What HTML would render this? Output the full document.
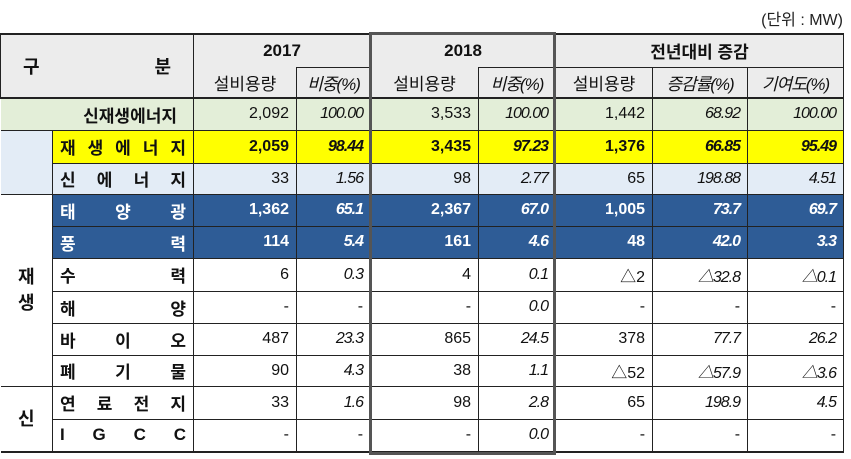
<!DOCTYPE html>
<html><head><meta charset="utf-8"><style>
body{margin:0;width:851px;height:459px;background:#fff;overflow:hidden;font-family:"Liberation Sans","Noto Sans CJK KR",sans-serif;position:relative}
#unit{position:absolute;right:8px;top:6px;font-size:16px;color:#222}
table{position:absolute;left:0;top:33px;border-collapse:collapse;table-layout:fixed;width:843px}
td{border:1px solid #222;padding:0 7px;font-size:16px;color:#111;text-align:right;white-space:nowrap;overflow:hidden}
tr.h td{background:#ececec;text-align:center;font-size:17px}
td.l{font-weight:bold;font-size:17px;text-align:left}
.sp{display:flex;justify-content:space-between}
i{font-style:italic;letter-spacing:-1px}
.g td{background:#e3eed8}
.y td{background:#ffff00;font-weight:bold}
.lb td{background:#e3ecf6}
.b td{background:#2e5c96;color:#fff;font-weight:bold}
td.w{background:#fff!important;color:#111!important;font-weight:bold;font-size:18px;text-align:center;line-height:26px;border-left:none}
#box{position:absolute;left:369px;top:32px;width:181px;height:417px;border:3px solid #555}
</style></head><body>
<div id="unit">(단위 : MW)</div>
<table>
<colgroup><col style="width:52px"><col style="width:141px"><col style="width:103px"><col style="width:74px"><col style="width:108px"><col style="width:77px"><col style="width:97px"><col style="width:95px"><col style="width:96px"></colgroup>
<tr class="h" style="height:33px;border-top:2px solid #222"><td colspan="2" rowspan="2" style="padding:0 22px"><div class="sp" style="font-weight:bold;font-size:18px"><span>구</span><span>분</span></div></td><td colspan="2" style="font-weight:bold;border-bottom:none">2017</td><td colspan="2" style="font-weight:bold;border-bottom:none">2018</td><td colspan="3" style="font-weight:bold">전년대비 증감</td></tr>
<tr class="h" style="height:31px;border-bottom:2px solid #222"><td style="border-top:none">설비용량</td><td><i>비중(%)</i></td><td style="border-top:none">설비용량</td><td><i>비중(%)</i></td><td>설비용량</td><td><i>증감률(%)</i></td><td><i>기여도(%)</i></td></tr>
<tr class="g" style="height:32px"><td colspan="2" class="l" style="text-align:right;padding-right:16px;border-left:none">신재생에너지</td><td>2,092</td><td><i>100.00</i></td><td>3,533</td><td><i>100.00</i></td><td>1,442</td><td><i>68.92</i></td><td><i>100.00</i></td></tr>
<tr class="y" style="height:33px"><td rowspan="2" style="background:#e3ecf6;border-left:none"></td><td class="l"><div class="sp"><span>재</span><span>생</span><span>에</span><span>너</span><span>지</span></div></td><td>2,059</td><td><i>98.44</i></td><td>3,435</td><td><i>97.23</i></td><td>1,376</td><td><i>66.85</i></td><td><i>95.49</i></td></tr>
<tr class="lb" style="height:31px"><td class="l"><div class="sp"><span>신</span><span>에</span><span>너</span><span>지</span></div></td><td>33</td><td><i>1.56</i></td><td>98</td><td><i>2.77</i></td><td>65</td><td><i>198.88</i></td><td><i>4.51</i></td></tr>
<tr class="b" style="height:32px"><td rowspan="6" class="w">재<br>생</td><td class="l"><div class="sp"><span>태</span><span>양</span><span>광</span></div></td><td>1,362</td><td><i>65.1</i></td><td>2,367</td><td><i>67.0</i></td><td>1,005</td><td><i>73.7</i></td><td><i>69.7</i></td></tr>
<tr class="b" style="height:32px"><td class="l"><div class="sp"><span>풍</span><span>력</span></div></td><td>114</td><td><i>5.4</i></td><td>161</td><td><i>4.6</i></td><td>48</td><td><i>42.0</i></td><td><i>3.3</i></td></tr>
<tr style="height:33px"><td class="l"><div class="sp"><span>수</span><span>력</span></div></td><td>6</td><td><i>0.3</i></td><td>4</td><td><i>0.1</i></td><td>△2</td><td><i>△32.8</i></td><td><i>△0.1</i></td></tr>
<tr style="height:32px"><td class="l"><div class="sp"><span>해</span><span>양</span></div></td><td>-</td><td>-</td><td>-</td><td><i>0.0</i></td><td>-</td><td>-</td><td>-</td></tr>
<tr style="height:32px"><td class="l"><div class="sp"><span>바</span><span>이</span><span>오</span></div></td><td>487</td><td><i>23.3</i></td><td>865</td><td><i>24.5</i></td><td>378</td><td><i>77.7</i></td><td><i>26.2</i></td></tr>
<tr style="height:31px"><td class="l"><div class="sp"><span>폐</span><span>기</span><span>물</span></div></td><td>90</td><td><i>4.3</i></td><td>38</td><td><i>1.1</i></td><td>△52</td><td><i>△57.9</i></td><td><i>△3.6</i></td></tr>
<tr style="height:33px"><td rowspan="2" class="w">신</td><td class="l"><div class="sp"><span>연</span><span>료</span><span>전</span><span>지</span></div></td><td>33</td><td><i>1.6</i></td><td>98</td><td><i>2.8</i></td><td>65</td><td><i>198.9</i></td><td><i>4.5</i></td></tr>
<tr style="height:33px;border-bottom:2px solid #222"><td class="l"><div class="sp"><span>I</span><span>G</span><span>C</span><span>C</span></div></td><td>-</td><td>-</td><td>-</td><td><i>0.0</i></td><td>-</td><td>-</td><td>-</td></tr>
</table>
<div id="box"></div>
</body></html>
